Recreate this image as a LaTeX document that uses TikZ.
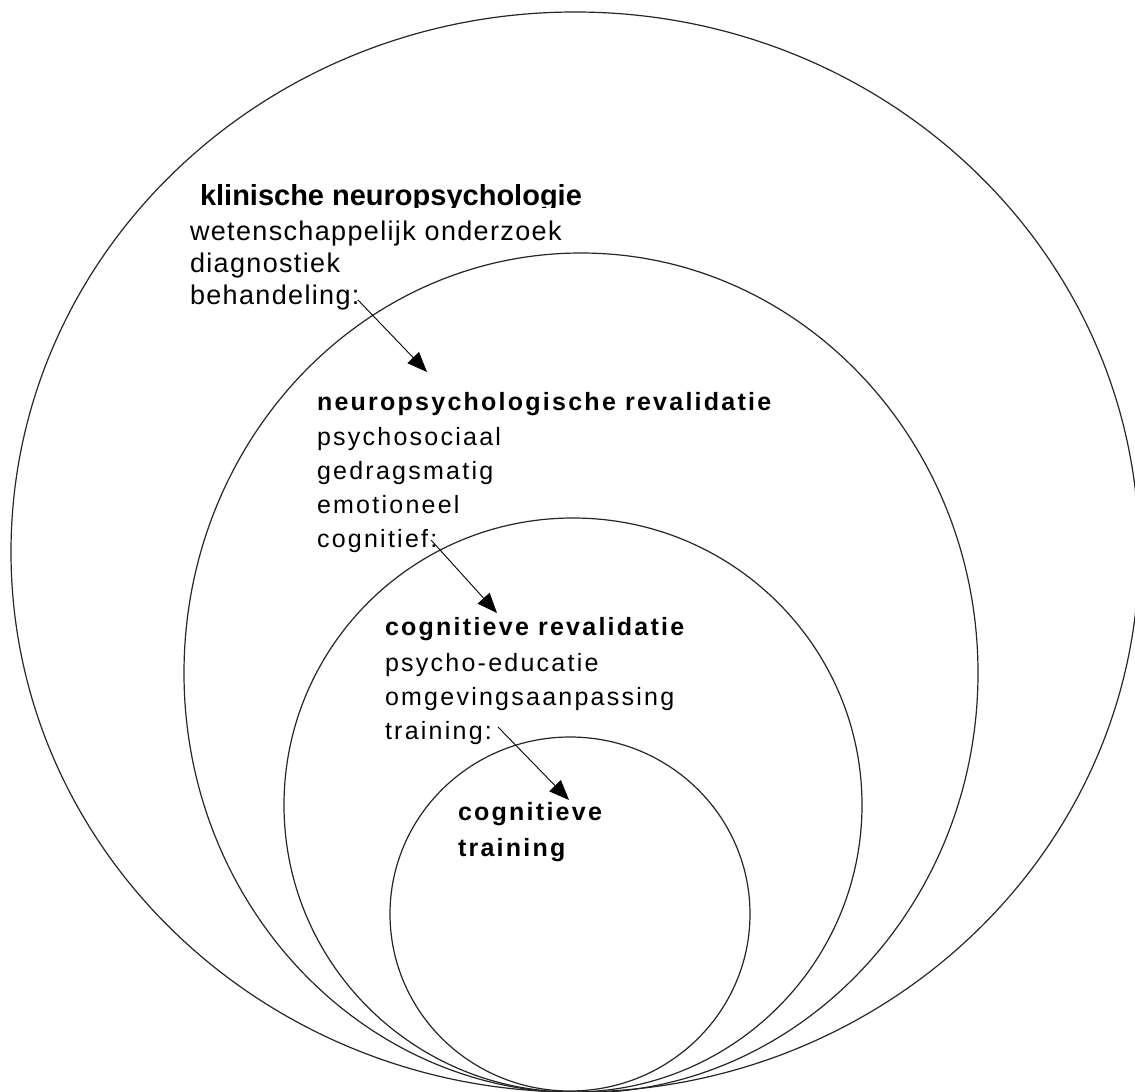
\documentclass[tikz,border=0pt]{standalone}
\usepackage{fontspec}
\setmainfont{Liberation Sans}
\newfontfamily\titlefont{Liberation Sans}
\newfontfamily\bodyA[LetterSpace=5]{Liberation Sans}
\newfontfamily\bodyB[LetterSpace=9]{Liberation Sans}
\usetikzlibrary{arrows.meta}
\begin{document}
\begin{tikzpicture}[x=1pt,y=-1pt,
  ring/.style={draw=black!85,line width=1.2pt},
  txt/.style={anchor=base west,inner sep=0pt,outer sep=0pt},
  titleA/.style={txt,font=\titlefont\fontsize{29}{30}\selectfont\bfseries},
  lineA/.style={txt,font=\bodyA\fontsize{27}{30}\selectfont},
  titleB/.style={txt,font=\bodyB\fontsize{25}{30}\selectfont\bfseries},
  lineB/.style={txt,font=\bodyB\fontsize{25}{30}\selectfont},
  link/.style={draw=black,line width=0.9pt,-{Triangle[length=20pt,width=16pt]}}]
\useasboundingbox[fill=white] (0,0) rectangle (1135,1092);
% rings
\draw[ring] (575,552) ellipse [x radius=564, y radius=540];
\draw[ring] (581,673) ellipse [x radius=397, y radius=420];
\draw[ring] (573,805) ellipse [x radius=289, y radius=287];
\draw[ring] (570,914) ellipse [x radius=180, y radius=177];
% block 1
\begin{scope}
\clip (0,0) rectangle (1135,207);
\node[titleA] (t1) at (200,205) {klinische neuropsychologie};
\end{scope}
\node[lineA] (l11) at (190,240) {wetenschappelijk onderzoek};
\node[lineA] (l12) at (190,272) {diagnostiek};
\node[lineA] (l13) at (190,304) {behandeling:};
% block 2
\node[titleB] (t2) at (317,410) {neuropsychologische revalidatie};
\node[lineB] (l21) at (317,445) {psychosociaal};
\node[lineB] (l22) at (317,479) {gedragsmatig};
\node[lineB] (l23) at (317,513) {emotioneel};
\node[lineB] (l24) at (317,547) {cognitief:};
% block 3
\node[titleB] (t3) at (385,635) {cognitieve revalidatie};
\node[lineB] (l31) at (385,671) {psycho-educatie};
\node[lineB] (l32) at (385,705) {omgevingsaanpassing};
\node[lineB] (l33) at (385,739) {training:};
% block 4
\node[titleB] (t4) at (458,820) {cognitieve};
\node[titleB] (t5) at (458,856) {training};
% arrows
\coordinate (a1s) at (358,300);
\coordinate (a1e) at (427,372);
\coordinate (a2s) at (431,540);
\coordinate (a2e) at (497,613);
\coordinate (a3s) at (498,727);
\coordinate (a3e) at (569,800);
\draw[link] (a1s) -- (a1e);
\draw[link] (a2s) -- (a2e);
\draw[link] (a3s) -- (a3e);
\end{tikzpicture}
\end{document}
